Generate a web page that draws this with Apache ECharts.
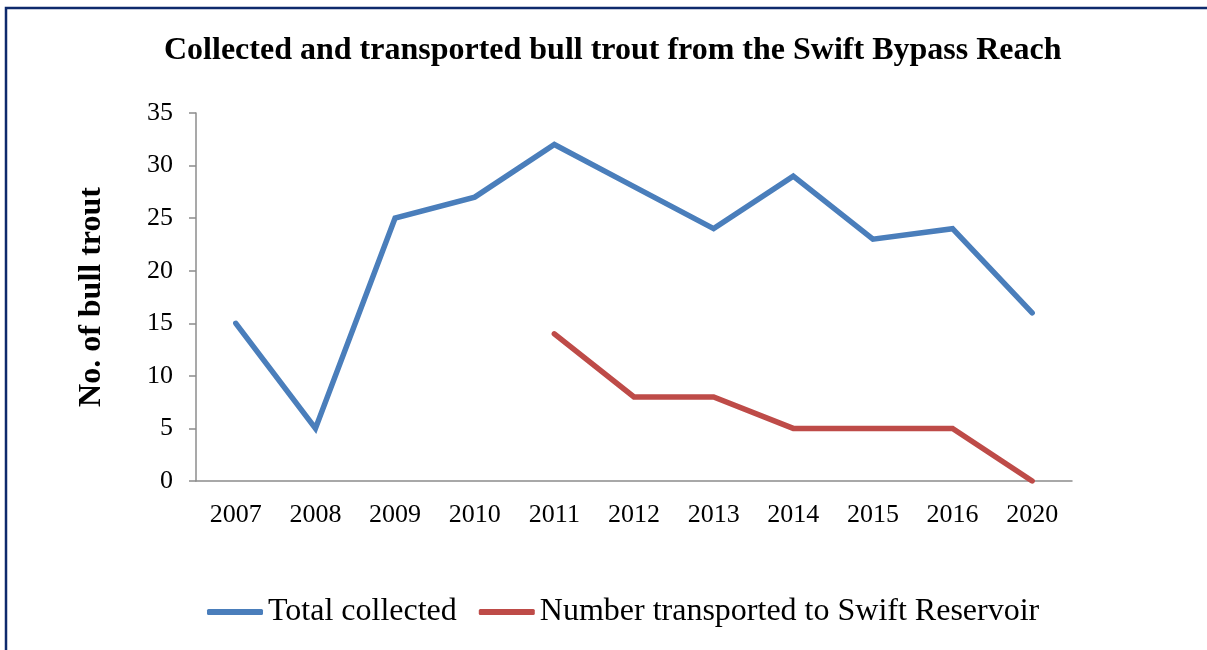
<!DOCTYPE html>
<html>
<head>
<meta charset="utf-8">
<title>Swift Bypass Reach bull trout</title>
<script src="https://cdn.jsdelivr.net/npm/echarts@6/dist/echarts.min.js"></script>
<style>
  html, body { margin: 0; padding: 0; background: #ffffff; }
  #chart { width: 1207px; height: 650px; }
</style>
</head>
<body>
<div id="chart"></div>
<script>
// Survey years and counts of bull trout in the Swift Bypass Reach
const years = ['2007', '2008', '2009', '2010', '2011', '2012', '2013', '2014', '2015', '2016', '2020'];
const totalCollected = [15, 5, 25, 27, 32, 28, 24, 29, 23, 24, 16];
const transported = [null, null, null, null, 14, 8, 8, 5, 5, 5, 0];
const yTicks = { min: 0, max: 35, step: 5 };

const serif = '"Liberation Serif", "Times New Roman", serif';
const chart = echarts.init(document.getElementById('chart'), null, { renderer: 'canvas' });

chart.setOption({
  backgroundColor: '#ffffff',
  animation: false,
  graphic: [{
    type: 'rect',
    shape: { x: 6, y: 8, width: 1300, height: 800 },
    style: { fill: 'none', stroke: '#0e2a6c', lineWidth: 2.5 },
    silent: true
  }],
  title: {
    text: 'Collected and transported bull trout from the Swift Bypass Reach',
    left: 159,
    top: 30,
    textStyle: { fontFamily: serif, fontWeight: 'bold', fontSize: 32, color: '#000000' }
  },
  legend: {
    bottom: 17,
    left: 202,
    icon: 'roundRect',
    itemWidth: 56,
    itemHeight: 6,
    itemGap: 22,
    textStyle: { fontFamily: serif, fontSize: 32, color: '#000000' },
    data: ['Total collected', 'Number transported to Swift Reservoir']
  },
  grid: { left: 196, right: 135, top: 113, bottom: 169 },
  xAxis: {
    type: 'category',
    data: years,
    boundaryGap: true,
    axisLine: { lineStyle: { color: '#8c8c8c', width: 1.5 } },
    axisTick: { show: false },
    axisLabel: { fontFamily: serif, fontSize: 26, color: '#000000', margin: 21 }
  },
  yAxis: {
    type: 'value',
    min: yTicks.min,
    max: yTicks.max,
    interval: yTicks.step,
    name: 'No. of bull trout',
    nameLocation: 'middle',
    nameGap: 88,
    nameTextStyle: { fontFamily: serif, fontWeight: 'bold', fontSize: 32, color: '#000000' },
    axisLine: { show: true, lineStyle: { color: '#8c8c8c', width: 1.5 } },
    axisTick: { show: true, length: 7, lineStyle: { color: '#8c8c8c', width: 1.5 } },
    splitLine: { show: false },
    axisLabel: { fontFamily: serif, fontSize: 26, color: '#000000', margin: 23 }
  },
  series: [
    {
      name: 'Total collected',
      type: 'line',
      data: totalCollected,
      symbol: 'none',
      lineStyle: { color: '#4a7ebb', width: 5.5, cap: 'round', join: 'miter' },
      itemStyle: { color: '#4a7ebb' }
    },
    {
      name: 'Number transported to Swift Reservoir',
      type: 'line',
      data: transported,
      symbol: 'none',
      connectNulls: false,
      lineStyle: { color: '#be4b48', width: 5.5, cap: 'round', join: 'miter' },
      itemStyle: { color: '#be4b48' }
    }
  ]
});
</script>
</body>
</html>
